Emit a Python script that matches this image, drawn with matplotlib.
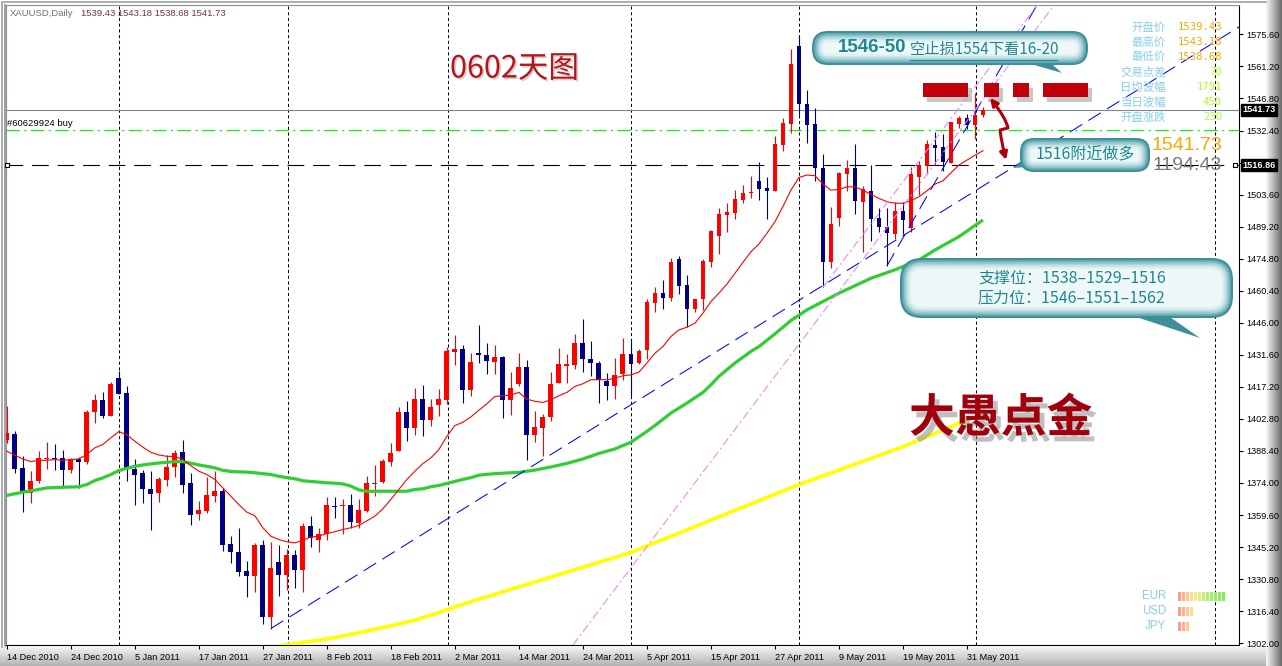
import numpy as np
import matplotlib.pyplot as plt
import matplotlib.patheffects as pe
from matplotlib.patches import FancyBboxPatch, Polygon, Rectangle, FancyArrowPatch
from matplotlib.path import Path
from matplotlib.transforms import blended_transform_factory

W, H = 1282, 666
CJK = ['Noto Sans CJK SC', 'DejaVu Sans']

# daily candles, XAUUSD, 14 Dec 2010 .. 2 Jun 2011
OPEN = [1393.5, 1396.2, 1380.9, 1369.7, 1374.7, 1384.8, 1385.3, 1385.4, 1379.7, 1384.8,
        1383.3, 1405.8, 1411.4, 1404.3, 1421.3, 1414.6, 1380.5, 1378.3, 1371.5, 1369.4,
        1375.3, 1381.1, 1388.1, 1373.8, 1360.0, 1361.4, 1368.2, 1370.2, 1346.6, 1342.8,
        1334.3, 1332.2, 1346.0, 1313.8, 1338.3, 1332.6, 1341.5, 1334.9, 1354.5, 1348.6,
        1351.0, 1363.7, 1363.6, 1363.9, 1356.0, 1361.2, 1373.5, 1374.4, 1383.6, 1388.6,
        1406.1, 1398.6, 1411.6, 1402.2, 1408.9, 1411.1, 1432.7, 1434.3, 1415.6, 1432.5,
        1431.6, 1428.2, 1430.7, 1411.1, 1418.6, 1426.2, 1395.4, 1398.6, 1403.5, 1419.0,
        1426.7, 1427.1, 1436.8, 1429.7, 1428.0, 1419.9, 1417.8, 1422.8, 1431.9, 1427.7,
        1433.7, 1455.1, 1459.3, 1457.3, 1474.7, 1463.0, 1452.4, 1456.7, 1473.3, 1485.1,
        1494.5, 1495.4, 1501.1, 1504.1, 1509.6, 1506.5, 1505.3, 1525.8, 1535.2, 1570.2,
        1544.5, 1535.2, 1515.5, 1473.5, 1493.2, 1512.8, 1515.7, 1500.3, 1505.2, 1493.1,
        1489.0, 1486.1, 1496.1, 1488.6, 1511.3, 1516.3, 1525.8, 1525.1, 1518.0, 1535.2,
        1538.2, 1534.8, 1539.43]
HIGH = [1408.5, 1397.5, 1386.3, 1379.3, 1388.3, 1392.3, 1391.4, 1388.9, 1385.4, 1385.7,
        1406.8, 1414.1, 1415.0, 1419.5, 1424.5, 1417.4, 1385.0, 1380.0, 1379.2, 1376.5,
        1386.5, 1389.0, 1393.5, 1378.3, 1366.1, 1376.6, 1379.5, 1371.8, 1350.4, 1353.6,
        1338.8, 1347.0, 1348.3, 1347.4, 1346.3, 1344.2, 1343.9, 1356.1, 1359.0, 1353.6,
        1367.9, 1367.5, 1366.7, 1369.0, 1367.0, 1377.0, 1382.3, 1384.8, 1392.1, 1408.1,
        1411.0, 1416.8, 1418.2, 1411.9, 1416.4, 1435.1, 1440.6, 1436.1, 1432.2, 1445.2,
        1437.0, 1436.1, 1430.9, 1423.8, 1432.5, 1429.1, 1406.5, 1405.1, 1424.0, 1434.7,
        1432.0, 1441.0, 1447.7, 1437.9, 1428.9, 1423.4, 1430.3, 1439.1, 1438.2, 1434.1,
        1456.6, 1462.1, 1465.2, 1475.1, 1476.0, 1467.5, 1456.9, 1474.5, 1487.7, 1497.5,
        1499.9, 1505.6, 1507.7, 1511.9, 1518.2, 1511.6, 1529.9, 1537.8, 1568.9, 1575.0,
        1550.8, 1542.4, 1521.8, 1498.0, 1513.9, 1519.1, 1526.3, 1507.6, 1516.9, 1497.4,
        1497.6, 1500.1, 1500.1, 1516.0, 1518.8, 1528.1, 1531.8, 1530.8, 1536.4, 1539.1,
        1539.8, 1549.3, 1543.18]
LOW = [1392.0, 1378.4, 1360.9, 1364.8, 1374.1, 1380.5, 1380.0, 1371.8, 1378.4, 1371.8,
       1382.4, 1401.0, 1403.2, 1404.0, 1413.8, 1374.8, 1363.9, 1364.8, 1352.8, 1365.4,
       1372.6, 1376.8, 1369.4, 1355.1, 1357.3, 1360.5, 1365.4, 1343.4, 1338.2, 1332.2,
       1322.8, 1325.0, 1310.7, 1308.6, 1323.2, 1325.8, 1326.8, 1325.0, 1345.2, 1343.1,
       1348.5, 1358.2, 1351.2, 1354.0, 1353.7, 1360.9, 1368.1, 1374.2, 1381.5, 1388.4,
       1392.7, 1395.4, 1395.0, 1399.5, 1404.3, 1409.5, 1427.1, 1409.8, 1412.9, 1427.7,
       1422.8, 1422.8, 1403.1, 1404.4, 1417.4, 1384.5, 1392.3, 1386.0, 1401.7, 1418.8,
       1419.0, 1425.2, 1423.8, 1421.9, 1409.8, 1411.3, 1411.7, 1420.4, 1412.6, 1427.3,
       1429.5, 1451.0, 1452.4, 1456.0, 1459.1, 1444.0, 1450.9, 1451.8, 1471.2, 1476.9,
       1486.9, 1492.7, 1499.9, 1502.2, 1501.1, 1492.5, 1505.0, 1523.3, 1531.4, 1539.3,
       1526.6, 1509.8, 1462.0, 1470.4, 1489.6, 1505.3, 1495.0, 1477.7, 1482.6, 1486.6,
       1471.6, 1483.8, 1485.9, 1486.8, 1503.4, 1512.8, 1517.4, 1514.2, 1517.7, 1533.4,
       1533.0, 1528.6, 1538.68]
CLOSE = [1396.5, 1380.5, 1369.7, 1374.7, 1385.4, 1385.4, 1384.8, 1379.7, 1384.8, 1383.3,
         1406.1, 1411.4, 1404.3, 1418.6, 1414.1, 1380.2, 1377.8, 1371.2, 1369.0, 1375.7,
         1381.4, 1387.5, 1373.0, 1359.6, 1361.7, 1368.4, 1370.2, 1346.1, 1343.0, 1334.0,
         1332.2, 1346.0, 1313.8, 1335.6, 1332.6, 1341.5, 1334.9, 1354.5, 1349.2, 1351.3,
         1363.9, 1363.4, 1363.9, 1356.4, 1361.7, 1373.8, 1374.2, 1384.1, 1387.5, 1406.1,
         1398.6, 1411.6, 1402.2, 1408.3, 1411.6, 1433.1, 1434.3, 1415.6, 1428.2, 1431.3,
         1428.6, 1430.7, 1411.1, 1416.9, 1426.2, 1395.4, 1399.0, 1403.8, 1418.6, 1427.4,
         1427.4, 1436.8, 1429.5, 1427.7, 1420.2, 1417.8, 1422.5, 1431.9, 1427.4, 1433.4,
         1455.4, 1459.3, 1457.3, 1473.3, 1462.7, 1452.4, 1456.6, 1473.6, 1487.2, 1494.8,
         1495.7, 1501.6, 1504.3, 1504.6, 1506.2, 1505.3, 1526.3, 1535.7, 1562.3, 1544.5,
         1535.0, 1515.4, 1473.5, 1490.4, 1513.4, 1515.7, 1500.9, 1505.9, 1492.8, 1488.9,
         1486.2, 1496.1, 1492.3, 1512.8, 1516.7, 1526.3, 1524.6, 1518.2, 1536.1, 1537.9,
         1534.8, 1539.3, 1541.73]

# fast moving average (red), read bar by bar
RED_MA = [1388.3, 1386.5, 1384.8, 1383.6, 1384.2, 1384.2, 1384.5, 1384.2, 1384.5, 1384.8,
          1386.8, 1389.8, 1391.3, 1394.3, 1397.1, 1395.7, 1392.8, 1390.1, 1387.8, 1386.6,
          1386.0, 1385.9, 1384.5, 1381.8, 1379.3, 1377.8, 1375.6, 1371.8, 1368.1, 1364.3,
          1360.9, 1359.3, 1353.9, 1350.1, 1348.6, 1347.6, 1347.1, 1348.3, 1349.7, 1350.1,
          1351.3, 1352.1, 1353.1, 1353.9, 1354.9, 1357.0, 1359.1, 1362.4, 1366.6, 1371.1,
          1375.6, 1379.3, 1382.7, 1385.3, 1389.0, 1395.0, 1399.8, 1401.3, 1403.7, 1406.7,
          1409.6, 1412.9, 1413.2, 1413.5, 1414.7, 1411.7, 1410.7, 1410.2, 1411.4, 1413.2,
          1414.7, 1417.4, 1418.6, 1420.4, 1420.4, 1420.4, 1421.1, 1422.2, 1422.6, 1423.8,
          1427.9, 1432.3, 1435.3, 1439.8, 1442.8, 1444.0, 1445.8, 1450.3, 1455.5, 1459.3,
          1463.4, 1468.2, 1473.1, 1477.9, 1481.4, 1486.2, 1491.4, 1498.2, 1505.6, 1511.3,
          1512.4, 1512.1, 1508.3, 1505.6, 1505.9, 1507.1, 1507.1, 1505.6, 1503.7, 1501.9,
          1500.4, 1499.7, 1499.7, 1500.9, 1502.6, 1505.3, 1508.3, 1509.8, 1513.4, 1516.9,
          1519.1, 1521.3, 1523.3]

# medium moving average (green), read at these bars
GREEN_BARS = [0, 2, 4, 5, 7, 9, 10, 11, 12, 13, 14, 15, 16, 17, 18, 19, 20, 21, 22, 23,
              24, 25, 26, 27, 28, 29, 30, 31, 32, 33, 34, 35, 36, 37, 38, 39, 40, 41, 42,
              43, 44, 45, 50, 51, 52, 53, 54, 55, 56, 57, 58, 59, 60, 61, 62, 64, 66, 68,
              70, 72, 74, 76, 78, 80, 81, 83, 85, 87, 88, 89, 91, 93, 94, 96, 98, 100,
              104, 108, 111, 114, 116, 119, 122]
GREEN_MA = [1368.4, 1369.9, 1371.1, 1371.8, 1372.1, 1372.3, 1373.3, 1375.1, 1376.3, 1377.8,
            1379.6, 1380.6, 1381.5, 1382.1, 1382.6, 1383.0, 1383.3, 1383.6, 1383.6, 1382.9,
            1382.1, 1381.5, 1380.8, 1379.7, 1379.2, 1379.0, 1378.9, 1378.6, 1378.2, 1377.8,
            1377.0, 1376.4, 1375.9, 1375.0, 1374.7, 1374.4, 1374.1, 1373.9, 1373.6, 1372.6,
            1370.9, 1370.3, 1370.3, 1371.1, 1371.4, 1372.3, 1372.9, 1373.8, 1374.7, 1375.6,
            1376.4, 1377.5, 1377.9, 1378.2, 1378.4, 1378.8, 1379.8, 1381.2, 1382.8, 1384.8,
            1387.3, 1389.3, 1392.3, 1397.2, 1399.8, 1405.4, 1409.9, 1414.7, 1418.1, 1421.9,
            1427.9, 1433.1, 1435.3, 1441.0, 1447.0, 1451.8, 1459.3, 1466.0, 1469.8, 1474.2,
            1478.7, 1484.7, 1492.2]

# slow moving average (yellow)
YELLOW_BARS = [34, 40, 43, 47, 51, 54, 56, 59, 63, 78, 99, 112, 120, 122]
YELLOW_MA = [1300.8, 1303.9, 1306.0, 1309.0, 1312.3, 1315.8, 1318.3, 1321.8, 1326.2,
             1342.8, 1373.3, 1390.3, 1402.4, 1404.5]

# drawn trend lines: (bar, price) end points
TREND_BLUE = [(33, 1308.6), (154.25, 1579.5)]
TREND_BLUE_STEEP = [(110, 1471.6), (128.75, 1588.8)]
TREND_PINK_A = [(70.75, 1301.2), (130.9, 1588.8)]
TREND_PINK_B = [(102, 1462.0), (128.8, 1588.8)]

BID = 1541.73
ORDER_LEVEL = 1532.5
LINE_LEVEL = 1516.86

DATE_BARS = list(range(0, 121, 8))
DATE_LABELS = ['14 Dec 2010', '24 Dec 2010', '5 Jan 2011', '17 Jan 2011', '27 Jan 2011',
               '8 Feb 2011', '18 Feb 2011', '2 Mar 2011', '14 Mar 2011', '24 Mar 2011',
               '5 Apr 2011', '15 Apr 2011', '27 Apr 2011', '9 May 2011', '19 May 2011',
               '31 May 2011']
PRICE_TICKS = [1302.0 + 14.4 * k for k in range(20)]
GRID_BARS = [14, 35.1, 55.1, 78, 99, 121.1, 151]

INFO_LABELS = ['开盘价', '最高价', '最低价', '交易点差', '日均波幅', '当日波幅', '开盘涨跌']
INFO_VALUES = ['1539.43', '1543.18', '1538.68', '70', '1791', '450', '230']
CCY = ['EUR', 'USD', 'JPY']
CCY_STRENGTH = [12, 4, 3]

BULL = '#ff0000'
BEAR = '#000080'
TEAL = '#1f8790'


def bubble(ov, x0, y0, x1, y1, r, tail):
    ov.add_patch(Polygon(tail, closed=True, fc='#3f8f9a', ec='none', zorder=2))
    shades = ['#3f8f9a', '#6fb0b9', '#9fcdd3', '#c4e2e6', '#dff0f2', '#eef8f9']
    for k, s in enumerate(shades):
        d = k * 2.2
        ov.add_patch(FancyBboxPatch((x0 + d, y0 + d), (x1 - x0) - 2 * d, (y1 - y0) - 2 * d,
                                    boxstyle='round,pad=0,rounding_size=%.1f' % max(r - d, 2),
                                    fc=s, ec='none', zorder=3))


def main():
    fig = plt.figure(figsize=(W / 100, H / 100), dpi=100)
    fig.patch.set_facecolor('white')

    # window frame
    bg = fig.add_axes([0, 0, 1, 1], zorder=0)
    bg.set_xlim(0, W)
    bg.set_ylim(H, 0)
    bg.axis('off')
    bg.imshow(np.linspace(0.95, 0.70, 40)[:, None], cmap='gray', vmin=0, vmax=1,
              extent=(0, W, H, 647), aspect='auto')
    bg.imshow(np.linspace(0.97, 0.42, 30)[None, :], cmap='gray', vmin=0, vmax=1,
              extent=(1266, W, H, 0), aspect='auto')
    bg.plot([1.5, 1.5, W - 16], [H - 19, 1.5, 1.5], color='#a0a0a0', lw=1.2)
    bg.plot([4.5, 4.5], [5, 646], color='#8a9096', lw=1.2)

    ax = fig.add_axes([6 / W, (H - 645) / H, (1239 - 6) / W, (645 - 5) / H], zorder=1)
    ax.set_facecolor('white')
    ax.set_xlim(-0.1, 154.0)
    ax.set_ylim(1301.2, 1588.8)
    for s in ('left', 'top'):
        ax.spines[s].set_color('#8a9096')
    for s in ('right', 'bottom'):
        ax.spines[s].set_color('black')
    ax.yaxis.tick_right()
    ax.set_yticks(PRICE_TICKS)
    # the 1518.00 label sits under the 1516.86 box
    ax.set_yticklabels(['' if abs(p - LINE_LEVEL) < 5 else '%.2f' % p for p in PRICE_TICKS])
    ax.set_xticks(DATE_BARS)
    ax.set_xticklabels(DATE_LABELS, ha='left')
    ax.tick_params(axis='y', length=3, width=0.8, pad=2, labelsize=6.6)
    ax.tick_params(axis='x', length=3, width=0.8, pad=3, labelsize=6.6)
    for t in ax.get_xticklabels() + ax.get_yticklabels():
        t.set_family('Liberation Sans')

    for g in GRID_BARS:
        ax.axvline(g, color='black', lw=0.75, ls=(0, (3, 2.5)), zorder=1)

    # candles
    o, hi, lo, c = map(np.array, (OPEN, HIGH, LOW, CLOSE))
    idx = np.arange(len(o))
    col = np.where(c >= o, BULL, BEAR)
    ax.vlines(idx, lo, hi, colors=col, lw=0.8, zorder=3)
    ax.bar(idx, np.maximum(np.abs(c - o), 0.45), bottom=np.minimum(o, c), width=0.6,
           color=col, lw=0, zorder=4)

    # moving averages
    ax.plot(GREEN_BARS, GREEN_MA, color='#32cd32', lw=2.3, zorder=5, solid_capstyle='butt')
    ax.plot(YELLOW_BARS, YELLOW_MA, color='#ffff00', lw=2.6, zorder=5, solid_capstyle='butt')
    ax.plot(idx, RED_MA, color='#ff0000', lw=0.8, zorder=6)

    # trend lines
    for pts, color, ls in ((TREND_BLUE, '#0000ff', (0, (14, 7))),
                           (TREND_BLUE_STEEP, '#0000ff', (0, (14, 7))),
                           (TREND_PINK_A, '#ee82ee', (0, (8, 3, 2, 3))),
                           (TREND_PINK_B, '#ee82ee', (0, (8, 3, 2, 3)))):
        xs, ys = zip(*pts)
        ax.plot(xs, ys, color=color, lw=0.75, ls=ls, zorder=6)

    # horizontal levels
    ax.axhline(BID, color='#778899', lw=0.8, zorder=2)
    ax.axhline(ORDER_LEVEL, color='#00ff00', lw=0.8, ls=(0, (12, 4, 2, 4)), zorder=2)
    ax.axhline(LINE_LEVEL, color='black', lw=0.8, ls=(0, (15, 8)), zorder=2)
    ax.plot([ax.get_xlim()[0] + 0.1, ax.get_xlim()[1] - 0.5], [LINE_LEVEL] * 2, ls='none',
            marker='s', ms=3.5, mfc='white', mec='black', mew=0.8, clip_on=False, zorder=7)

    trans = blended_transform_factory(ax.transAxes, ax.transData)
    for lvl in (BID, LINE_LEVEL):
        ax.text(1.003, lvl, '%.2f' % lvl, transform=trans, ha='left', va='center',
                fontsize=6.6, color='white', family='Liberation Sans', weight='bold',
                bbox=dict(boxstyle='square,pad=0.15', fc='black', ec='black'), zorder=8,
                clip_on=False)

    # annotation layer in pixel units
    ov = fig.add_axes([0, 0, 1, 1], zorder=5)
    ov.set_xlim(0, W)
    ov.set_ylim(H, 0)
    ov.axis('off')
    ov.patch.set_alpha(0)

    ov.text(10, 14, 'XAUUSD,Daily', fontsize=6.8, color='#6a7080', va='center', ha='left',
            family='Liberation Sans')
    ov.text(81, 14, '1539.43 1543.18 1538.68 1541.73', fontsize=6.8, color='#7a3040',
            va='center', ha='left', family='Liberation Sans')
    ax.text(0.005, ORDER_LEVEL + 3.0, '#60629924 buy', fontsize=6.8, color='black',
            va='center', ha='left', family='Liberation Sans', zorder=7)

    ov.text(450, 69, '0602天图', fontsize=22, color='#b5141c', family=CJK,
            va='center', ha='left',
            path_effects=[pe.SimplePatchShadow(offset=(1.2, -1.2), shadow_rgbFace='#c0a0a0',
                                               alpha=0.5), pe.Normal()])

    ov.text(909, 419, '大愚点金', fontsize=33, color='#a0000c', family=CJK,
            va='center', ha='left', weight='bold',
            path_effects=[pe.SimplePatchShadow(offset=(3.5, -4.5), shadow_rgbFace='#8c8c8c',
                                               alpha=0.55), pe.Normal()])

    # thick red dashes with shadow and arrow
    for x0, x1 in ((923, 968), (984, 999), (1013, 1029), (1043, 1088)):
        ov.add_patch(Rectangle((x0 + 4, 88), x1 - x0, 14, fc='#b0b0b0', ec='none',
                               alpha=0.7, zorder=2))
        ov.add_patch(Rectangle((x0, 83), x1 - x0, 14, fc='#c0000a', ec='none', zorder=3))
    arrow_path = Path([(990, 98), (1006, 118), (1008, 128), (1000, 130), (1002, 145),
                       (1006, 160)],
                      [Path.MOVETO, Path.CURVE3, Path.CURVE3, Path.LINETO, Path.CURVE3,
                       Path.CURVE3])
    ov.add_patch(FancyArrowPatch(path=arrow_path, arrowstyle='<|-|>', mutation_scale=11,
                                 color='#b0000c', lw=2.2, zorder=4))

    # bubbles
    bubble(ov, 812, 31, 1088, 65, 16, [(1010, 58), (1062, 73), (1045, 58)])
    ov.text(838, 47, '1546-50', fontsize=13.5, color=TEAL, weight='bold',
            family='Liberation Sans', va='center', ha='left', zorder=5)
    ov.text(910, 49, '空止损1554下看16-20', fontsize=11, color=TEAL, family=CJK,
            va='center', ha='left', zorder=5)
    ov.plot([910, 1057], [59.5, 59.5], color=TEAL, lw=0.8, zorder=5)

    bubble(ov, 1020, 138, 1150, 172, 14, [(1032, 155), (1013, 168), (1040, 166)])
    ov.text(1085, 155, '1516附近做多', fontsize=11.5, color=TEAL, family=CJK,
            va='center', ha='center', zorder=5)

    bubble(ov, 900, 258, 1233, 318, 22, [(1115, 310), (1200, 338), (1160, 310)])
    ov.text(978, 278, '支撑位：1538–1529–1516', fontsize=11.5, color=TEAL, family=CJK,
            va='center', ha='left', zorder=5)
    ov.text(978, 298, '压力位：1546–1551–1562', fontsize=11.5, color=TEAL, family=CJK,
            va='center', ha='left', zorder=5)

    # info panel
    for k, (lab, val) in enumerate(zip(INFO_LABELS, INFO_VALUES)):
        y = 27 + 15 * k
        ov.text(1166, y, lab, fontsize=8.2, color='#87ceeb', family=CJK, va='center',
                ha='right', zorder=5)
        ov.text(1222, y, val, fontsize=7.6, color='#ffa500' if k < 3 else '#adff2f',
                family='DejaVu Sans Mono', va='center', ha='right', zorder=5)
    ov.text(1222, 145, '%.2f' % BID, fontsize=14, color='#ffa500', family='Liberation Sans',
            va='center', ha='right', zorder=5)
    ov.text(1222, 166, '1194:43', fontsize=14, color='#7a7a7a', family='Liberation Sans',
            va='center', ha='right', zorder=5)

    # currency strength
    stripe_cols = ['#ff9a9a', '#ffb08a', '#ffc890', '#ffe08a', '#f4ec88', '#e0f080',
                   '#c8f078', '#b0f070', '#a0ee6a', '#98ec66', '#90ea62', '#88e85e']
    for k, (name, n) in enumerate(zip(CCY, CCY_STRENGTH)):
        y = 596 + 15 * k
        ov.text(1166, y, name, fontsize=8.3, color='#87ceeb', family='Liberation Sans',
                va='center', ha='right', zorder=5)
        for j in range(n):
            ov.add_patch(Rectangle((1178 + 4 * j, y - 4.5), 2.6, 9, fc=stripe_cols[j],
                                   ec='none', zorder=5))

    fig.savefig('out.png', dpi=100)


if __name__ == '__main__':
    main()
